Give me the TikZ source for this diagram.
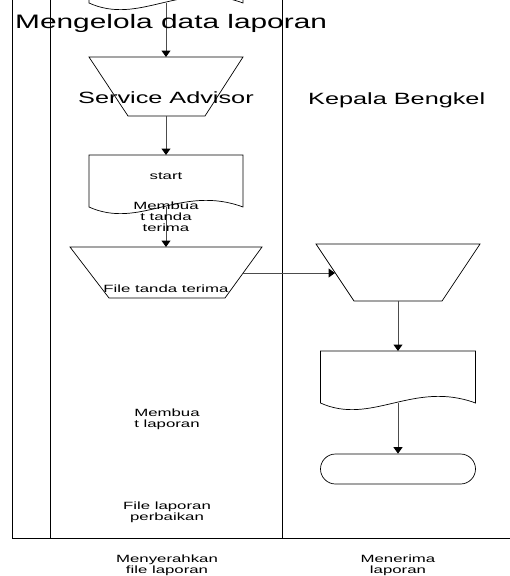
\documentclass[tikz,border=0pt]{standalone}
\usepackage{fontspec}
\setmainfont{Liberation Sans}
\usetikzlibrary{arrows.meta}
\newcommand{\hstr}[2]{\scalebox{#1}[1]{#2}}
\begin{document}
\begin{tikzpicture}[x=1pt,y=-1pt,
  lane/.style={draw=black, line width=0.9pt},
  shp/.style={draw=black, line width=0.7pt},
  conn/.style={draw=black!70, line width=1pt, -{Triangle[width=9pt,length=6.5pt,black]}},
  area/.style args={#1x#2}{minimum width=#1, minimum height=#2, inner sep=0pt, outer sep=0pt},
  big/.style={inner sep=0pt, font=\fontsize{16.3}{18}\selectfont},
  small/.style={inner sep=0pt, font=\fontsize{10.5}{10.5}\selectfont},
  smallb/.style={inner sep=0pt, font=\fontsize{10.5}{10}\selectfont}]
\useasboundingbox (0,0) rectangle (510,576);
\clip (0,0) rectangle (510,576);
% lanes
\draw[lane] (12,-2) -- (12,538) -- (512,538);
\draw[lane] (50,-2) -- (50,538);
\draw[lane] (282,-2) -- (282,538);
% shape areas (for anchors)
\node[area=154x10] (d1) at (166,-2) {};
\node[area=154x59] (t1) at (166,86.5) {};
\node[area=154x52] (d2) at (166,181) {};
\node[area=192x51] (t3) at (166,272.5) {};
\node[area=164x57] (t4) at (398,272.5) {};
\node[area=155x52] (d4) at (398,377) {};
\coordinate (t3e) at (243,273);
\coordinate (t4w) at (335,273);
% shapes
\draw[shp] (89,-8) -- (89,3) .. controls (140,26) and (181,-20) .. (243,3) -- (243,-8);
\draw[shp] (89,57) -- (243,57) -- (205,116) -- (128,116) -- cycle;
\draw[shp] (89,207) -- (89,155) -- (243,155) -- (243,207) .. controls (181,184) and (140,230) .. (89,207) -- cycle;
\draw[shp] (70,247) -- (262,247) -- (225,298) -- (109,298) -- cycle;
\draw[shp] (316,244) -- (480,244) -- (442,301) -- (354,301) -- cycle;
\draw[shp] (320.5,403) -- (320.5,351) -- (475.5,351) -- (475.5,403) .. controls (413.5,380) and (371.5,426) .. (320.5,403) -- cycle;
\node[shp, rounded corners=15pt, minimum width=155pt, minimum height=30pt, inner sep=0pt] (term) at (398,469) {};
% connectors
\draw[conn] (d1.south) -- (t1.north);
\draw[conn] (t1.south) -- (d2.north);
\draw[conn] (d2.south) -- (t3.north);
\draw[conn] (t3e) -- (t4w);
\draw[conn] (t4.south) -- (d4.north);
\draw[conn] (d4.south) -- (term.north);
% texts
\node[inner sep=0pt, anchor=base west, font=\fontsize{19.5}{22}\selectfont] (title) at (15,28) {\hstr{1.53}{Mengelola data laporan}};
\node[big, anchor=base west] (sa) at (78,103) {\hstr{1.55}{Service Advisor}};
\node[big, anchor=base west] (kb) at (308,104) {\hstr{1.55}{Kepala Bengkel}};
\node[small, anchor=base] (st) at (166,179) {\hstr{1.6}{start}};
\node[small, anchor=base] (mtt) at (166,209.5) {\hstr{1.6}{\begin{tabular}[t]{@{}c@{}}Membua\\t tanda\\terima\end{tabular}}};
\node[small, anchor=base] (ftt) at (166,292) {\hstr{1.6}{File tanda terima}};
\node[small, anchor=base] (ml) at (167,416.5) {\hstr{1.6}{\begin{tabular}[t]{@{}c@{}}Membua\\t laporan\end{tabular}}};
\node[small, anchor=base] (flp) at (167,509.5) {\hstr{1.6}{\begin{tabular}[t]{@{}c@{}}File laporan\\perbaikan\end{tabular}}};
\node[smallb, anchor=base] (mfl) at (167,562.5) {\hstr{1.6}{\begin{tabular}[t]{@{}c@{}}Menyerahkan\\file laporan\end{tabular}}};
\node[smallb, anchor=base] (mlp) at (398,562.5) {\hstr{1.6}{\begin{tabular}[t]{@{}c@{}}Menerima\\laporan\end{tabular}}};
\end{tikzpicture}
\end{document}
